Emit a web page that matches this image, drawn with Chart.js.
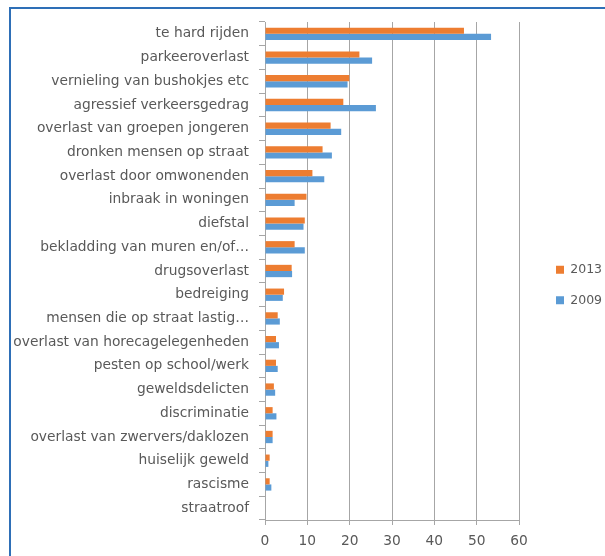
<!DOCTYPE html>
<html>
<head>
<meta charset="utf-8">
<script src="https://cdn.jsdelivr.net/npm/chart.js@4/dist/chart.umd.min.js"></script>
<style>
  html, body { margin: 0; padding: 0; background: #fff; overflow: hidden; }
  #frame {
    position: absolute; left: 9px; top: 7px; width: 594px; height: 549px;
    border-left: 2px solid #2e6fb7; border-top: 2px solid #2e6fb7;
  }
  #chart { position: absolute; left: 0; top: 2px; }
</style>
</head>
<body>
<div id="frame"><canvas id="chart" width="594" height="545"></canvas></div>
<script>
'use strict';

var categories = [
  'te hard rijden',
  'parkeeroverlast',
  'vernieling van bushokjes etc',
  'agressief verkeersgedrag',
  'overlast van groepen jongeren',
  'dronken mensen op straat',
  'overlast door omwonenden',
  'inbraak in woningen',
  'diefstal',
  'bekladding van muren en/of\u2026',
  'drugsoverlast',
  'bedreiging',
  'mensen die op straat lastig\u2026',
  'overlast van horecagelegenheden',
  'pesten op school/werk',
  'geweldsdelicten',
  'discriminatie',
  'overlast van zwervers/daklozen',
  'huiselijk geweld',
  'rascisme',
  'straatroof'
];

var values2013 = [47.0, 22.3, 19.9, 18.5, 15.5, 13.6, 11.2, 9.8, 9.4, 7.0, 6.3, 4.5, 3.0, 2.6, 2.6, 2.1, 1.8, 1.8, 1.1, 1.1, 0];
var values2009 = [53.4, 25.3, 19.5, 26.2, 18.0, 15.8, 14.0, 7.0, 9.1, 9.4, 6.4, 4.2, 3.5, 3.3, 3.0, 2.4, 2.7, 1.8, 0.8, 1.5, 0];

var xMin = 0, xMax = 60, xStep = 10;

var FONT = 'DejaVu Sans';
var TEXT = '#595959';
var GRID = '#a6a6a6';

// Excel leaves a wider gap between plot and legend than Chart.js does
var legendGap = {
  id: 'legendGap',
  afterLayout: function(chart) {
    if (!chart.legend) return;
    chart.legend.left += 19;
    chart.legend.right += 19;
  },
};

new Chart(document.getElementById('chart'), {
  type: 'bar',
  data: {
    labels: categories,
    datasets: [{
      label: '2013',
      data: values2013,
      backgroundColor: '#ed7d31',
      borderWidth: 0,
    }, {
      label: '2009',
      data: values2009,
      backgroundColor: '#5b9bd5',
      borderWidth: 0,
    }],
  },
  plugins: [legendGap],
  options: {
    responsive: false,
    animation: false,
    indexAxis: 'y',
    categoryPercentage: 0.52,
    barPercentage: 1,
    layout: { padding: { top: 11, right: 0, bottom: 8, left: 0 } },
    plugins: {
      tooltip: { enabled: false },
      legend: {
        position: 'right',
        labels: {
          font: { family: FONT, size: 12.5 },
          color: TEXT,
          boxWidth: 8,
          boxHeight: 8,
          padding: 18,
        },
      },
    },
    scales: {
      x: {
        min: xMin,
        max: xMax,
        ticks: { stepSize: xStep, color: TEXT, font: { family: FONT, size: 13.8 }, padding: 8 },
        grid: { color: GRID, tickLength: 5, drawTicks: true },
        border: { color: GRID },
        afterFit: function(scale) {
          scale.height = 28;
          scale.paddingRight = 86;
        },
      },
      y: {
        ticks: { color: TEXT, font: { family: FONT, size: 13.8 }, padding: 10, autoSkip: false },
        grid: { color: GRID, drawOnChartArea: false, tickLength: 6, offset: true },
        border: { color: GRID },
        afterFit: function(scale) {
          scale.width = 254;
          scale.paddingTop = 0;
          scale.paddingBottom = 0;
        },
      },
    },
  },
});
</script>
</body>
</html>
